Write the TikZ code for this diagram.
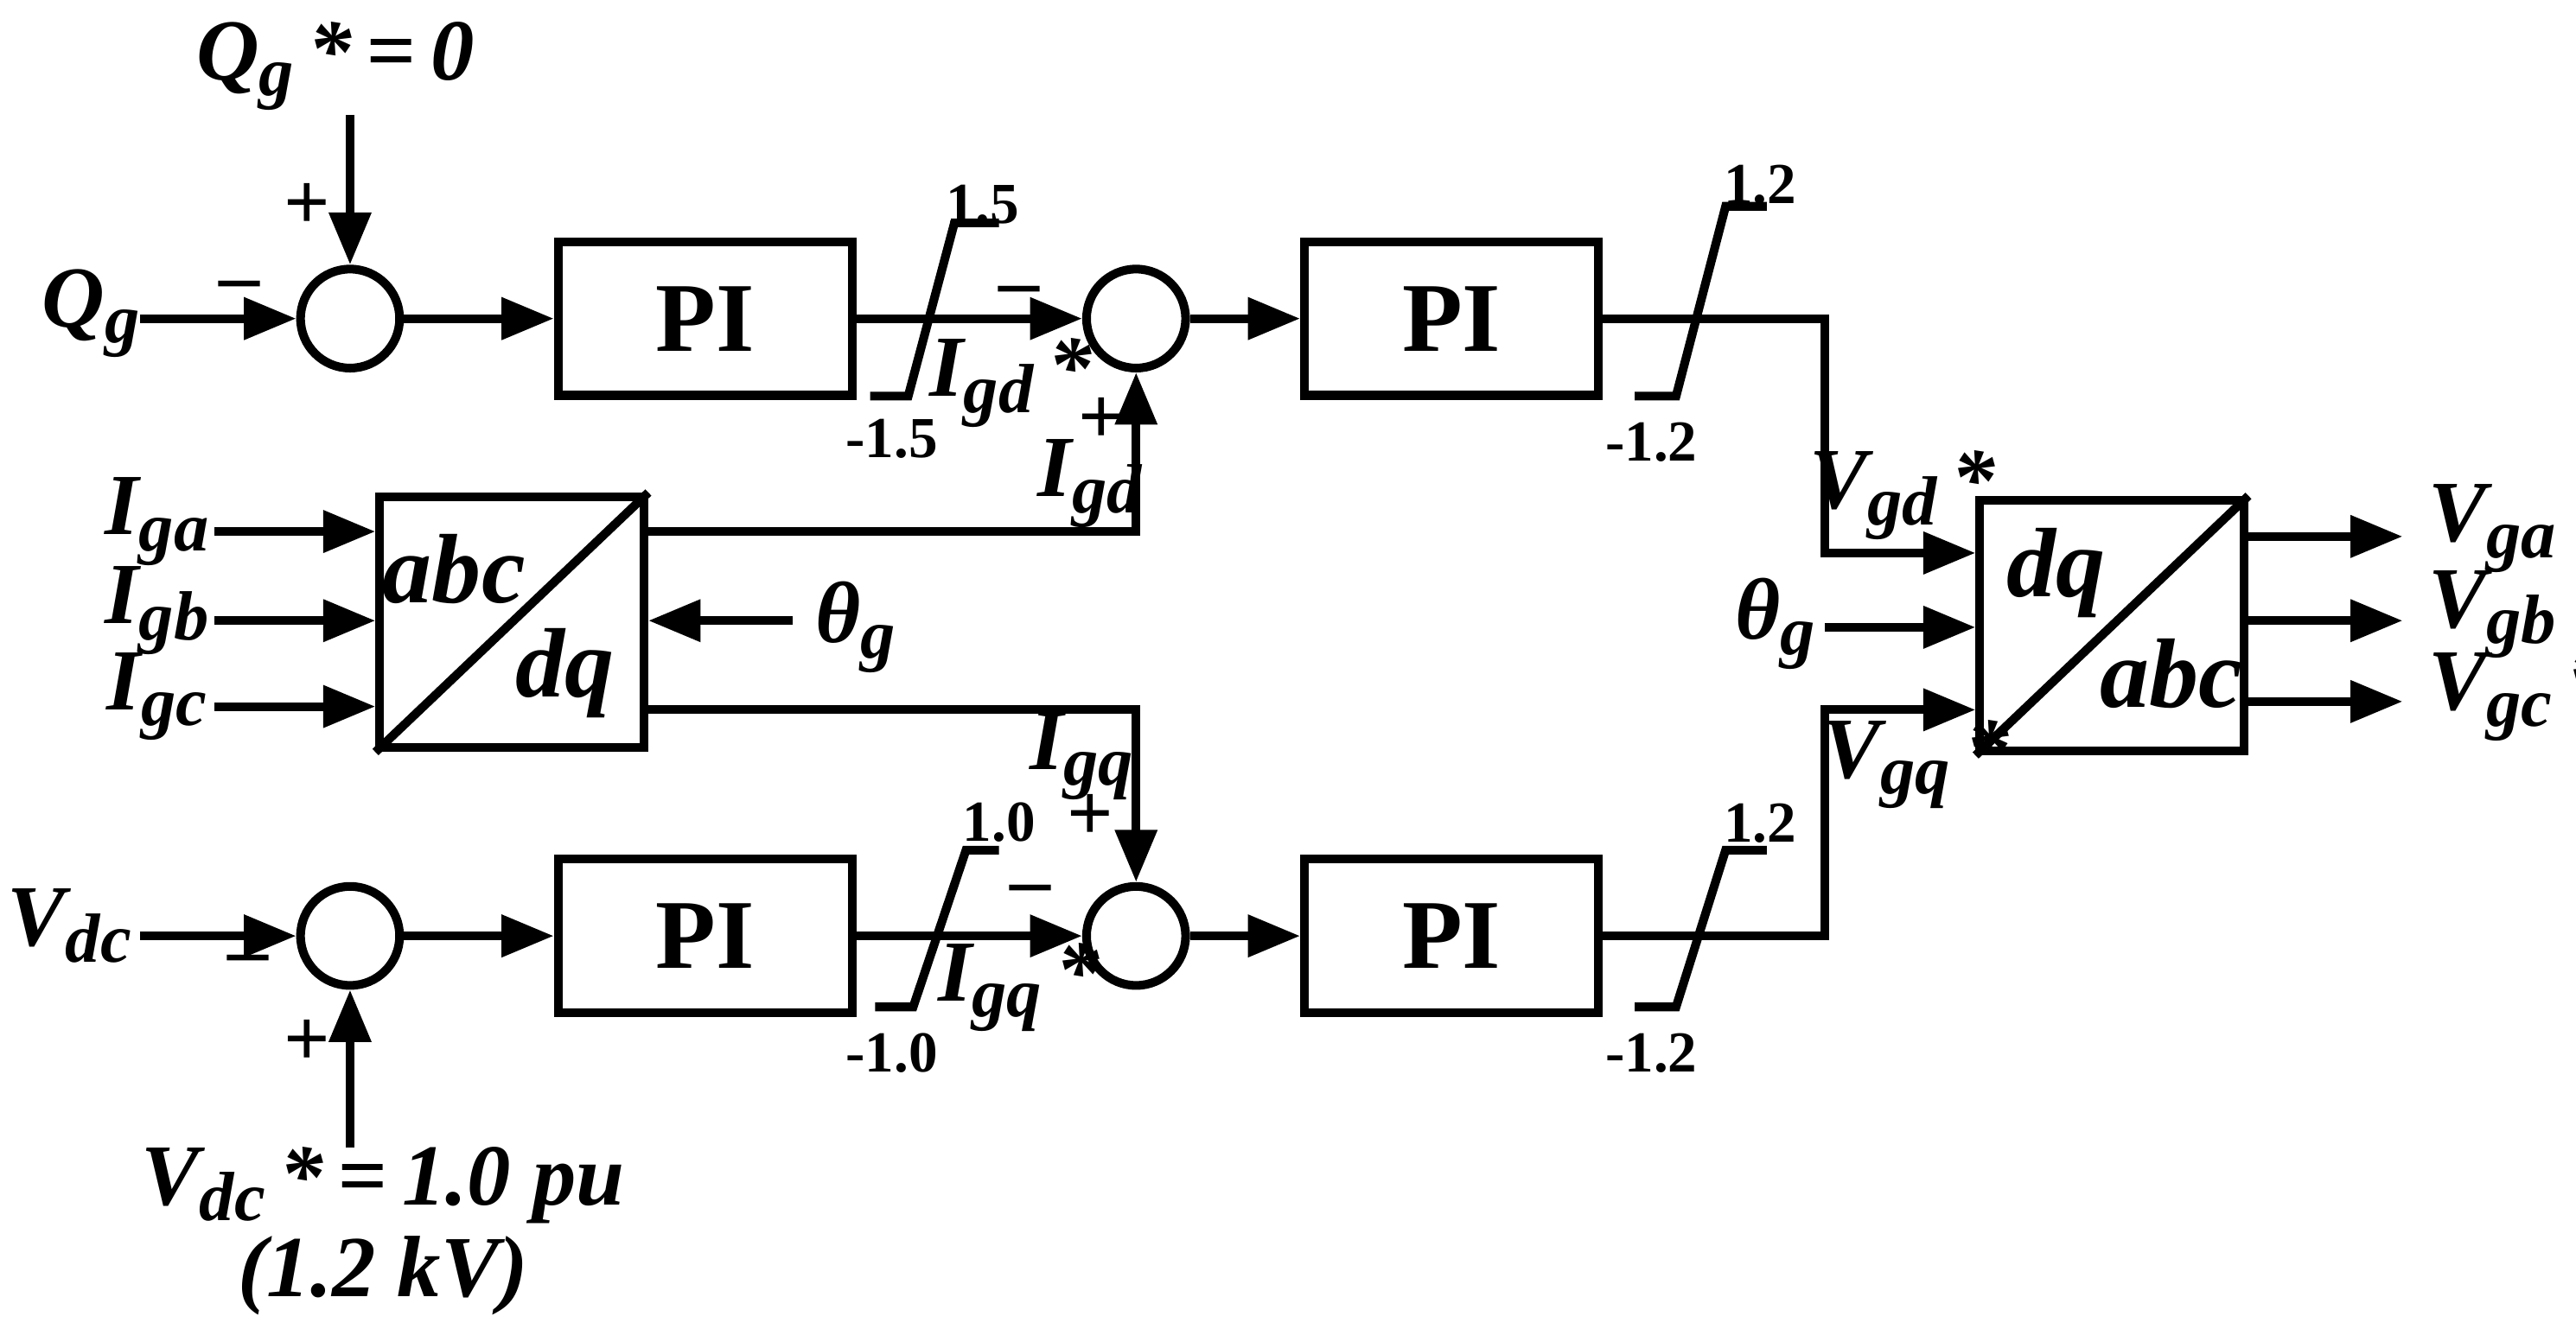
\documentclass[tikz,border=0pt]{standalone}
\usepackage{fontspec}
\setmainfont{Liberation Serif}
\usetikzlibrary{arrows.meta}
\newcommand\sbx[1]{\raisebox{-0.4ex}{\fontsize{12}{12}\selectfont #1}}
\begin{document}
\begin{tikzpicture}[x=0.1mm,y=-0.1mm,line width=1.5pt,
  sum/.style={draw,circle,minimum size=6mm,inner sep=0pt},
  pib/.style={draw,rectangle,inner sep=0pt,minimum width=17.8mm,minimum height=9.3mm,font=\fontsize{17}{17}\selectfont\bfseries},
  tb/.style={draw,rectangle,inner sep=0pt,minimum width=16mm,minimum height=15.2mm},
  arr/.style={-{Triangle[length=9pt,width=7pt]}},
  lab/.style={font=\fontsize{15}{15}\selectfont\bfseries\itshape,inner sep=0pt},
  big/.style={font=\fontsize{17}{17}\selectfont\bfseries\itshape,inner sep=0pt},
  num/.style={font=\fontsize{10}{10}\selectfont\bfseries,inner sep=0pt},
  pm/.style={font=\fontsize{14}{14}\selectfont\bfseries,inner sep=0pt}]
\useasboundingbox (0,0) rectangle (1560,805);
% sums
\node[sum] (s1) at (212,193) {};
\node[sum] (s2) at (688,193) {};
\node[sum] (s3) at (688,567) {};
\node[sum] (s4) at (212,567) {};
% PI blocks
\node[pib] (p1) at (427,193) {PI};
\node[pib] (p2) at (879,193) {PI};
\node[pib] (p3) at (427,567) {PI};
\node[pib] (p4) at (879,567) {PI};
% transforms
\node[tb] (t1) at (310,377) {};
\draw (t1.south west) -- (t1.north east);
\node[big] at (275,345) {abc};
\node[big] at (342,408) {dq};
\node[tb] (t2) at (1279,379) {};
\draw (t2.south west) -- (t2.north east);
\node[big] at (1245,347) {dq};
\node[big] at (1315,408) {abc};
% top loop
\node[lab] (qg) at (55,190) {Q\sbx{g}};
\node[lab] (qgr) at (203,40) {Q\sbx{g}\,*\,=\,0};
\draw[arr] (85,193) -- (s1.west);
\draw[arr] (qgr.south -| s1) -- (s1.north);
\node[pm] at (186,125) {+};
\node[pm] at (145,177) {–};
\draw[arr] (s1.east) -- (p1.west);
\draw[arr] (p1.east) -- (s2.west);
\draw (527,240)--(550,240)--(578,135)--(605,135);
\node[num] at (595,124) {1.5};
\node[num] at (540,266) {-1.5};
\node[lab] at (612,232) {I\sbx{gd}\,*};
\node[pm] at (617,180) {–};
\node[pm] at (667,255) {+};
\node[lab] at (660,293) {I\sbx{gd}};
\coordinate (c1) at (s2 |- 0,322);
\draw[arr] (t1.east |- 0,322) -- (c1) -- (s2.south);
\draw[arr] (s2.east) -- (p2.west);
\coordinate (c2) at (1105,193);
\coordinate (c3) at (1105,335);
\draw[arr] (p2.east) -- (c2) -- (c3) -- (t2.west |- c3);
\draw (990,240)--(1015,240)--(1045,125)--(1070,125);
\node[num] at (1066,112) {1.2};
\node[num] at (1000,268) {-1.2};
\node[lab] at (1152,300) {V\sbx{gd}\,*};
% transform 1 inputs
\node[lab] (ia) at (95,316) {I\sbx{ga}};
\node[lab] (ib) at (95,370) {I\sbx{gb}};
\node[lab] (ic) at (95,422) {I\sbx{gc}};
\draw[arr] (130,322) -- (t1.west |- 0,322);
\draw[arr] (130,376) -- (t1.west |- 0,376);
\draw[arr] (130,428) -- (t1.west |- 0,428);
\node[lab] (th1) at (518,380) {θ\sbx{g}};
\draw[arr] (480,376) -- (t1.east |- 0,376);
% lower
\node[lab] at (655,458) {I\sbx{gq}};
\node[pm] at (660,495) {+};
\coordinate (c4) at (s3 |- 0,430);
\draw[arr] (t1.east |- 0,430) -- (c4) -- (s3.north);
\node[lab] at (42,561) {V\sbx{dc}};
\draw[arr] (85,567) -- (s4.west);
\node[pm] at (150,585) {–};
\node[pm] at (186,632) {+};
\node[lab] (vr) at (232,718) {V\sbx{dc}\,*\,=\,1.0 pu};
\node[lab] at (232,773) {(1.2 kV)};
\draw[arr] (s4 |- 0,695) -- (s4.south);
\draw[arr] (s4.east) -- (p3.west);
\draw[arr] (p3.east) -- (s3.west);
\draw (530,610)--(553,610)--(585,515)--(605,515);
\node[num] at (605,498) {1.0};
\node[num] at (540,638) {-1.0};
\node[lab] at (617,598) {I\sbx{gq}\,*};
\node[pm] at (624,543) {–};
\draw[arr] (s3.east) -- (p4.west);
\coordinate (c5) at (1105,567);
\coordinate (c6) at (1105,430);
\draw[arr] (p4.east) -- (c5) -- (c6) -- (t2.west |- c6);
\draw (990,610)--(1015,610)--(1045,515)--(1070,515);
\node[num] at (1066,499) {1.2};
\node[num] at (1000,638) {-1.2};
\node[lab] at (1160,463) {V\sbx{gq}\,*};
\node[lab] at (1075,378) {θ\sbx{g}};
\draw[arr] (1105,380) -- (t2.west |- 0,380);
% outputs
\draw[arr] (t2.east |- 0,325) -- (1455,325);
\draw[arr] (t2.east |- 0,376) -- (1455,376);
\draw[arr] (t2.east |- 0,425) -- (1455,425);
\node[lab,anchor=west] at (1468,320) {V\sbx{ga}\,*};
\node[lab,anchor=west] at (1468,372) {V\sbx{gb}\,*};
\node[lab,anchor=west] at (1468,422) {V\sbx{gc}\,*};
\end{tikzpicture}
\end{document}
